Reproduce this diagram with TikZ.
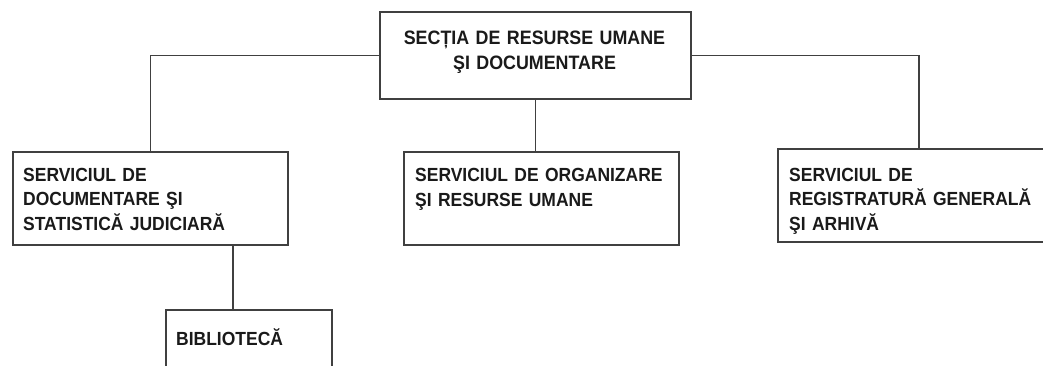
\documentclass[tikz,border=0pt]{standalone}
\usepackage{fontspec}
\setmainfont[FakeStretch=0.92]{Liberation Sans}
\definecolor{linec}{HTML}{404040}
\definecolor{txtc}{HTML}{1A1A1A}
\begin{document}
\begin{tikzpicture}[x=1pt,y=-1pt,
  box/.style={draw=linec, line width=1.8pt, inner sep=0pt, anchor=north west},
  lbl/.style={inner sep=0pt, anchor=base west, text width=280pt, align=left, text=txtc,
    font=\fontsize{19}{24.8}\selectfont\bfseries},
  toplbl/.style={inner sep=0pt, anchor=base, text width=300pt, align=center, text=txtc,
    font=\fontsize{19.4}{24.5}\selectfont\bfseries},
  conn/.style={draw=linec, line width=1.8pt}]
\useasboundingbox (0,0) rectangle (1043,365);
\clip (0,0) rectangle (1043,365);
\fill[white] (0,0) rectangle (1043,365);
% boxes
\node[box, minimum width=311pt, minimum height=87pt] (top) at (379,11) {};
\node[box, minimum width=275pt, minimum height=93pt] (left) at (12,151) {};
\node[box, minimum width=275pt, minimum height=93pt] (mid) at (403,151) {};
\node[box, minimum width=282pt, minimum height=93pt] (right) at (777,148) {};
\node[box, minimum width=166pt, minimum height=70pt] (bib) at (165,309) {};
% texts
\node[toplbl] (toptxt) at (534.5,44.5) {SECȚIA DE RESURSE UMANE\\ŞI DOCUMENTARE};
\node[lbl] (lefttxt) at (23,181) {SERVICIUL DE\\DOCUMENTARE ŞI\\STATISTICĂ JUDICIARĂ};
\node[lbl] (midtxt) at (415,181.5) {SERVICIUL DE ORGANIZARE\\ŞI RESURSE UMANE};
\node[lbl] (righttxt) at (789,181) {SERVICIUL DE\\REGISTRATURĂ GENERALĂ\\ŞI ARHIVĂ};
\node[lbl] (bibtxt) at (176,345.7) {BIBLIOTECĂ};
% connectors
\coordinate (bj) at (233,309);
\draw[conn] (top.west) -| (left.north);
\draw[conn] (top.east) -| (right.north);
\draw[conn] (top.south) -- (top.south |- mid.north);
\draw[conn] (bj |- left.south) -- (bj);
\end{tikzpicture}
\end{document}
